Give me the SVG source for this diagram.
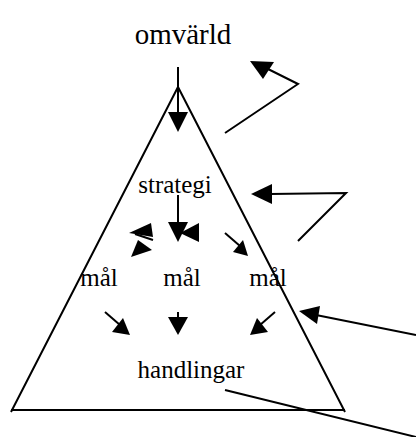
<svg xmlns="http://www.w3.org/2000/svg" width="416" height="437" viewBox="0 0 416 437">
  <style>
    .ln { stroke: #000; stroke-width: 2; fill: none; }
    .hd { fill: #000; stroke: none; }
    .lbl { font-family: "Liberation Serif", "Times New Roman", serif; font-size: 25px; fill: #000; }
    .big { font-size: 29px; }
  </style>
  <rect width="416" height="437" fill="#fff"/>

  <!-- pyramid -->
  <g id="pyramid">
    <polyline class="ln" points="11,412 178,87 345,412"/>
    <line class="ln" x1="11" y1="410" x2="345" y2="410"/>
  </g>

  <!-- labels -->
  <g id="omvarld"><text class="lbl big" x="183" y="44" text-anchor="middle">omvärld</text></g>
  <g id="strategi"><text class="lbl" x="175" y="193" text-anchor="middle">strategi</text></g>
  <g id="mal-left"><text class="lbl" x="99" y="286" text-anchor="middle">mål</text></g>
  <g id="mal-center"><text class="lbl" x="182" y="286" text-anchor="middle">mål</text></g>
  <g id="mal-right"><text class="lbl" x="268" y="286" text-anchor="middle">mål</text></g>
  <g id="handlingar"><text class="lbl" x="191" y="378" text-anchor="middle">handlingar</text></g>

  <!-- connectors -->
  <g id="connectors">
    <!-- from omvärld down into the pyramid -->
    <line class="ln" x1="178" y1="67" x2="178" y2="114"/>
    <polygon class="hd" points="168,112 188,112 178,132"/>

    <!-- feedback loops on the right side -->
    <polyline class="ln" points="225,133 298,84 268,69"/>
    <polygon class="hd" points="250,61 274,62 263,79"/>

    <polyline class="ln" points="298,241 346,193 270,194"/>
    <polygon class="hd" points="251,194 272,184 272,204"/>

    <line class="ln" x1="416" y1="335" x2="316" y2="315"/>
    <polygon class="hd" points="299,311 320,306 317,324"/>

    <line class="ln" x1="225" y1="390" x2="416" y2="437"/>

    <!-- strategi to goals -->
    <line class="ln" x1="178" y1="195" x2="178" y2="224"/>
    <polygon class="hd" points="168,222 188,222 178,242"/>
    <polygon class="hd" points="180,233 199,223 199,242"/>

    <polygon class="hd" points="129,233 151,223 153,237"/>
    <line class="ln" x1="135" y1="234" x2="153" y2="240"/>
    <polygon class="hd" points="131,257 138,240 152,250"/>

    <line class="ln" x1="225" y1="233" x2="240" y2="246"/>
    <polygon class="hd" points="248,256 233,252 243,240"/>

    <!-- goals to actions -->
    <line class="ln" x1="105" y1="312" x2="120" y2="325"/>
    <polygon class="hd" points="130,335 112,332 123,318"/>

    <line class="ln" x1="178" y1="312" x2="178" y2="320"/>
    <polygon class="hd" points="168,317 188,317 178,335"/>

    <line class="ln" x1="275" y1="312" x2="260" y2="325"/>
    <polygon class="hd" points="250,335 268,332 257,318"/>
  </g>
</svg>
